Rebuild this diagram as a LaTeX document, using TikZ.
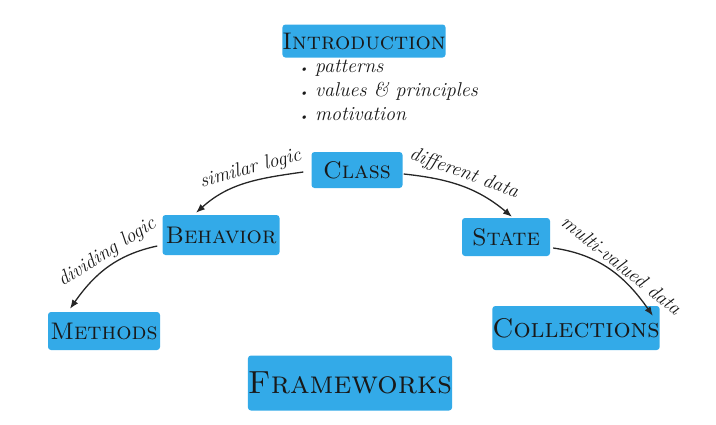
\documentclass[tikz,border=0pt]{standalone}
\usetikzlibrary{arrows.meta}
\definecolor{brush}{RGB}{51,170,232}
\newcommand{\dotitem}{{\fontsize{12}{12}\selectfont\textbullet}\ }
\tikzset{
  box/.style={fill=brush, rounded corners=3pt, inner sep=0pt, text=black!90,
    font=\fontsize{24}{28}\selectfont\scshape},
  link/.style={draw=black!85, line width=1.3pt, -{Latex[length=9pt,width=7pt]}},
  lab/.style={font=\fontsize{20}{22}\selectfont\itshape, sloped, above, inner sep=3pt, text=black!90},
}
\begin{document}
\begin{tikzpicture}[x=1pt,y=1pt]
\useasboundingbox (0,0) rectangle (716,-424);
\node[box, minimum width=162, minimum height=33] (intro) at (364,-41) {Introduction};
\node[anchor=north west, align=left, inner sep=0pt, text=black!90,
  font=\fontsize{20}{24}\selectfont\itshape] (list) at (299,-60)
  {\dotitem patterns\\ \dotitem values \& principles\\ \dotitem motivation};
\node[box, minimum width=91, minimum height=36] (class) at (357,-170) {Class};
\node[box, minimum width=117, minimum height=40] (behavior) at (221,-235) {Behavior};
\node[box, minimum width=88, minimum height=38] (state) at (506,-237) {State};
\node[box, minimum width=112, minimum height=38] (methods) at (104,-331) {Methods};
\node[box, minimum width=158, minimum height=44, font=\fontsize{27}{30}\selectfont\scshape] (collections) at (576,-328) {Collections};
\node[box, minimum width=195, minimum height=55, font=\fontsize{32}{36}\selectfont\scshape] (frameworks) at (350,-383) {Frameworks};

\draw[link] ([xshift=-8pt,yshift=-2pt]class.west) to[out=188,in=42]
  node[lab,pos=0.42]{similar logic} ([xshift=-25pt,yshift=2pt]behavior.north);
\draw[link] ([xshift=1pt,yshift=-4pt]class.east) to[out=-6,in=140]
  node[lab,pos=0.48]{different data} ([xshift=6pt,yshift=1pt]state.north);
\draw[link] ([xshift=-5pt,yshift=-11pt]behavior.west) to[out=192,in=55]
  node[lab,pos=0.42]{dividing logic} ([xshift=-34pt,yshift=3pt]methods.north);
\draw[link] ([xshift=3pt,yshift=-11pt]state.east) to[out=-8,in=125]
  node[lab,pos=0.55]{multi-valued data} ([xshift=-7pt,yshift=-10pt]collections.north east);
\end{tikzpicture}
\end{document}
